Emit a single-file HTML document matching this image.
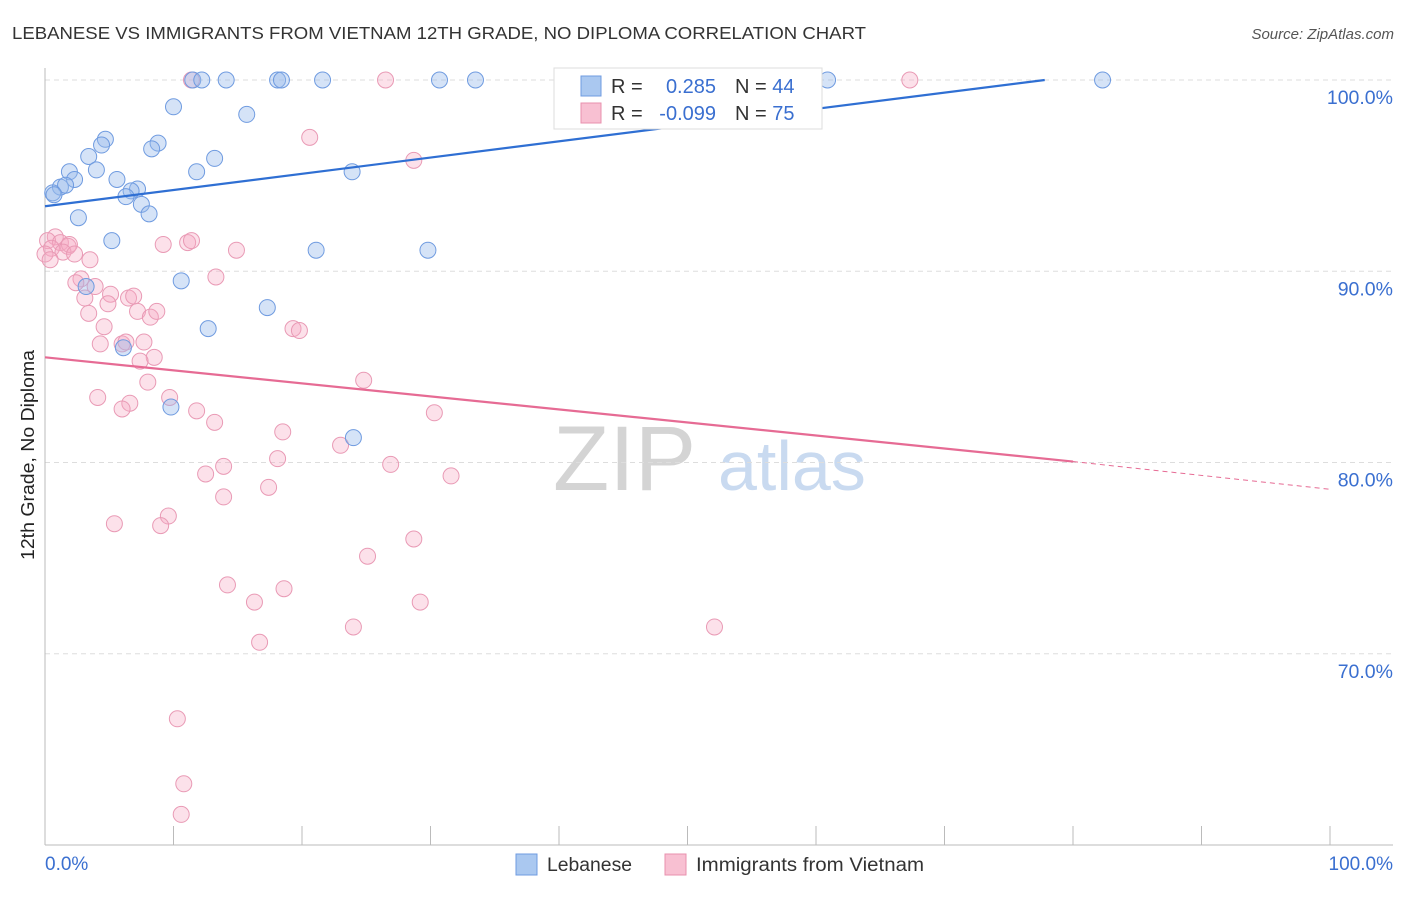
<!DOCTYPE html>
<html><head><meta charset="utf-8"><style>
body{margin:0;background:#fff;font-family:"Liberation Sans",sans-serif}
svg text{font-family:"Liberation Sans",sans-serif}
</style></head><body>
<svg id="c" width="1406" height="892">
<text x="12" y="39" font-size="17.5" fill="#333" textLength="854" lengthAdjust="spacingAndGlyphs">LEBANESE VS IMMIGRANTS FROM VIETNAM 12TH GRADE, NO DIPLOMA CORRELATION CHART</text>
<text x="1394" y="39" font-size="15" fill="#555" font-style="italic" text-anchor="end">Source: ZipAtlas.com</text>
<text x="0" y="0" transform="translate(34,455) rotate(-90)" font-size="18" fill="#222" text-anchor="middle" textLength="210" lengthAdjust="spacingAndGlyphs">12th Grade, No Diploma</text>
<text x="553" y="490" font-size="92" fill="#d4d4d4" font-family="Liberation Serif">ZIP</text>
<text x="718" y="490" font-size="70" fill="#c9daf0">atlas</text>
<g id="grid"></g><g id="pts"></g><g id="trend"></g>
<g>
<rect x="554" y="68" width="268" height="61" fill="#fff" stroke="#ddd"/>
<rect x="581" y="76" width="20" height="20" fill="#aac8f0" stroke="#6f9be0"/>
<rect x="581" y="103" width="20" height="20" fill="#f8c0d2" stroke="#e890ae"/>
<text x="611" y="93" font-size="20" fill="#333">R =</text>
<text x="716" y="93" font-size="20" fill="#3a6fd0" text-anchor="end">0.285</text>
<text x="735" y="93" font-size="20" fill="#333">N = <tspan fill="#3a6fd0">44</tspan></text>
<text x="611" y="120" font-size="20" fill="#333">R =</text>
<text x="716" y="120" font-size="20" fill="#3a6fd0" text-anchor="end">-0.099</text>
<text x="735" y="120" font-size="20" fill="#333">N = <tspan fill="#3a6fd0">75</tspan></text>
</g>
<g>
<rect x="516" y="854" width="21" height="21" fill="#aac8f0" stroke="#6f9be0"/>
<text x="547" y="871" font-size="19" fill="#333" textLength="85" lengthAdjust="spacingAndGlyphs">Lebanese</text>
<rect x="665" y="854" width="21" height="21" fill="#f8c0d2" stroke="#e890ae"/>
<text x="696" y="871" font-size="19" fill="#333" textLength="228" lengthAdjust="spacingAndGlyphs">Immigrants from Vietnam</text>
</g>
</svg>
<script>
const yTicks=[100,90,80,70];
const yTickLabels=["100.0%","90.0%","80.0%","70.0%"];
const xTicks=[0,10,20,30,40,50,60,70,80,90,100];
const blueX=[11.5,12.2,14.1,18.1,18.4,21.6,30.7,33.5,60.9,82.3,10.0,15.7,4.7,4.4,8.8,8.3,3.4,13.2,1.9,4.0,2.3,5.6,11.8,23.9,1.2,1.6,0.6,7.2,6.7,6.3,7.5,8.1,2.6,5.2,21.1,29.8,10.6,3.2,17.3,12.7,6.1,9.8,24.0,0.7];
const blueY=[100,100,100,100,100,100,100,100,100,100,98.6,98.2,96.9,96.6,96.7,96.4,96.0,95.9,95.2,95.3,94.8,94.8,95.2,95.2,94.4,94.5,94.1,94.3,94.2,93.9,93.5,93.0,92.8,91.6,91.1,91.1,89.5,89.2,88.1,87.0,86.0,82.9,81.3,94.0];
const pinkX=[11.4,26.5,67.3,20.6,28.7,0.8,0.2,1.2,0.5,1.8,1.9,1.4,2.3,3.5,9.2,11.1,11.4,14.9,13.3,2.8,2.4,3.9,3.1,5.1,6.5,6.9,4.9,7.2,8.2,8.7,3.4,4.6,19.3,19.8,4.3,6.0,6.3,7.7,8.5,7.4,8.0,24.8,4.1,9.7,6.6,6.0,11.8,13.2,30.3,18.5,23.0,18.1,26.9,13.9,12.5,31.6,17.4,13.9,9.6,5.4,9.0,28.7,25.1,14.2,18.6,16.3,29.2,24.0,52.1,16.7,10.3,10.8,10.6,0,0.4];
const pinkY=[100,100,100,97.0,95.8,91.8,91.6,91.5,91.2,91.3,91.4,91.0,90.9,90.6,91.4,91.5,91.6,91.1,89.7,89.6,89.4,89.2,88.6,88.8,88.6,88.7,88.3,87.9,87.6,87.9,87.8,87.1,87.0,86.9,86.2,86.2,86.3,86.3,85.5,85.3,84.2,84.3,83.4,83.4,83.1,82.8,82.7,82.1,82.6,81.6,80.9,80.2,79.9,79.8,79.4,79.3,78.7,78.2,77.2,76.8,76.7,76.0,75.1,73.6,73.4,72.7,72.7,71.4,71.4,70.6,66.6,63.2,61.6,90.9,90.6];
const blueTrend=[[0,93.4],[77.8,100]];
const pinkTrend=[[0,85.5],[80,80.05]];
const pinkTrendDash=[[80,80.05],[100,78.6]];
const NS="http://www.w3.org/2000/svg";
const sx=v=>45+v*12.85, sy=v=>845-(v-60)*19.125;
function mk(tag,attrs,parent){const e=document.createElementNS(NS,tag);for(const k in attrs)e.setAttribute(k,attrs[k]);parent.appendChild(e);return e;}
const grid=document.getElementById('grid');
yTicks.forEach((t,i)=>{
 const l=mk('line',{x1:45,x2:1393,y1:sy(t),y2:sy(t),stroke:'#ddd','stroke-dasharray':'5,4'},grid);
 
 
 const tx=mk('text',{x:1393,y:sy(t)+24,'font-size':19.5,fill:'#3a6fd0','text-anchor':'end'},grid);
 tx.textContent=yTickLabels[i];
 
 
});
const ax=mk('line',{x1:45,x2:45,y1:68,y2:845,stroke:'#bbb'},grid);


const bx=mk('line',{x1:45,x2:1393,y1:845,y2:845,stroke:'#bbb'},grid);


xTicks.forEach(t=>{
 const l=mk('line',{x1:sx(t),x2:sx(t),y1:826,y2:845,stroke:'#bbb'},grid);
 
 
});
const xl0=mk('text',{x:45,y:870,'font-size':19,fill:'#3a6fd0'},grid);xl0.textContent='0.0%';


const xl1=mk('text',{x:1393,y:870,'font-size':19,fill:'#3a6fd0','text-anchor':'end'},grid);xl1.textContent='100.0%';


const pts=document.getElementById('pts');
pinkX.forEach((x,i)=>{
 const c=mk('circle',{cx:sx(x),cy:sy(pinkY[i]),r:8,fill:'rgba(246,170,196,0.35)',stroke:'#e99ab5','stroke-width':1},pts);
 
 
});
blueX.forEach((x,i)=>{
 const c=mk('circle',{cx:sx(x),cy:sy(blueY[i]),r:8,fill:'rgba(150,185,235,0.4)',stroke:'#6f9be0','stroke-width':1},pts);
 
 
});
const tr=document.getElementById('trend');
function line(p,st,w,dash){const l=mk('line',{x1:sx(p[0][0]),y1:sy(p[0][1]),x2:sx(p[1][0]),y2:sy(p[1][1]),stroke:st,'stroke-width':w},tr);if(dash)l.setAttribute('stroke-dasharray',dash);return l;}
const t1=line(blueTrend,'#2f6fd3',2.2);


const t2=line(pinkTrend,'#e66b94',2.2);


const t3=line(pinkTrendDash,'#e66b94',1,'5,4');


</script>
</body></html>
